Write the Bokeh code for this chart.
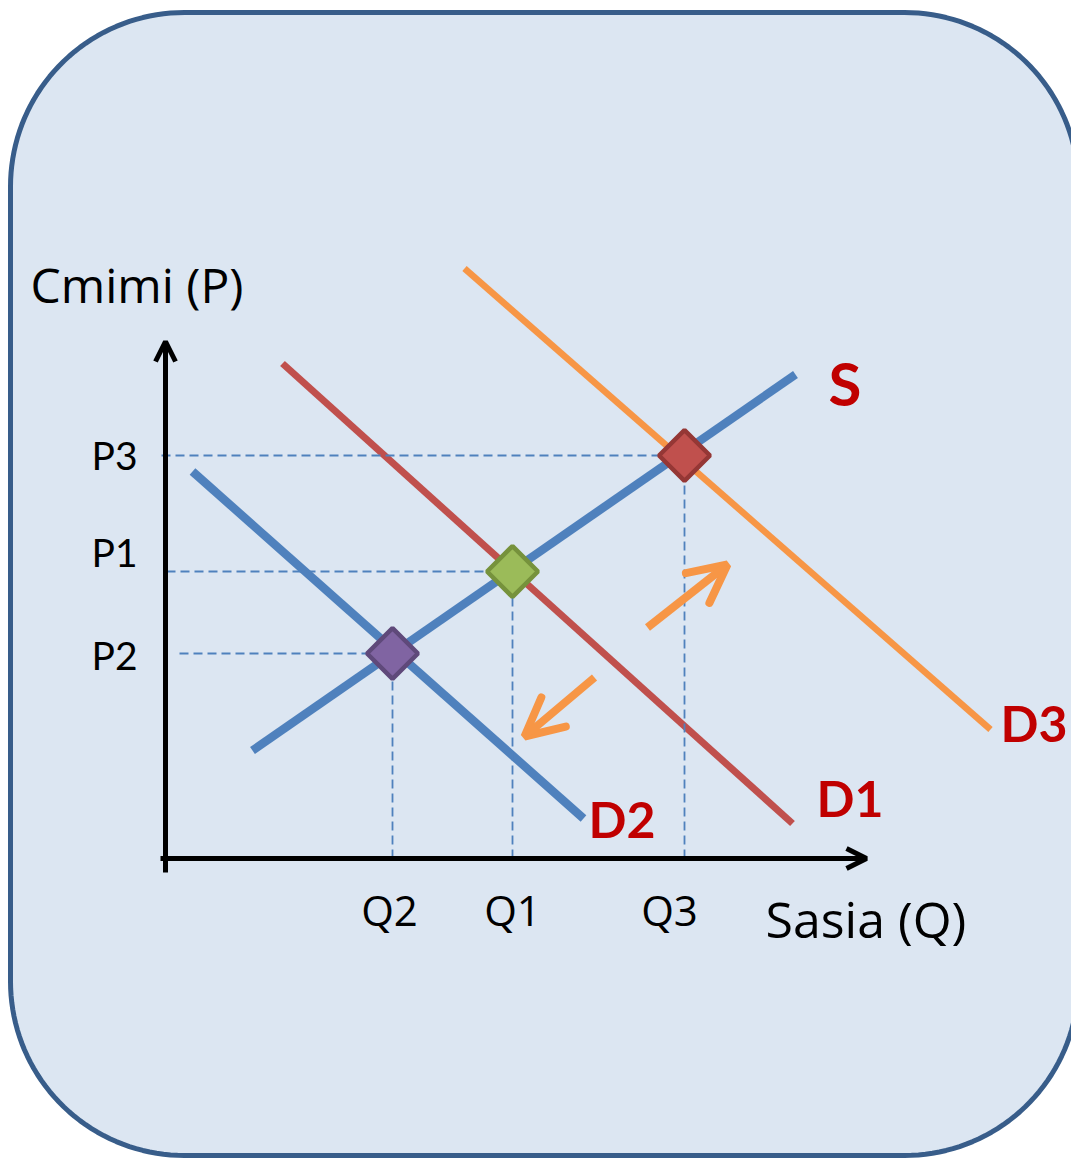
import numpy as np
from bokeh.plotting import figure
from bokeh.models import Range1d, Arrow, OpenHead
from bokeh.core.properties import value
from bokeh.embed import file_html
from bokeh.resources import INLINE

# ---- data (quantity Q on x, price P on y) ----
curve_names = ["S", "D1", "D2", "D3"]
curve_q_start = [0.87, 1.17, 0.27, 2.99]
curve_p_start = [1.08, 4.95, 3.87, 5.90]
curve_q_end = [6.30, 6.27, 4.18, 8.25]
curve_p_end = [4.84, 0.35, 0.40, 1.29]
curve_colors = ["#4f81bd", "#c0504d", "#4f81bd", "#f79646"]
curve_widths = [8.5, 7, 8.5, 6.5]

eq_names = ["E2", "E1", "E3"]
eq_q = [2.27, 3.47, 5.19]
eq_p = [2.05, 2.87, 4.03]
eq_fill = ["#8064a2", "#9bbb59", "#c0504d"]
eq_line = ["#5f497a", "#76923c", "#953735"]

p_tick_labels = ["P2", "P1", "P3"]
q_tick_labels = ["Q2", "Q1", "Q3"]
p_guide_start = [0.14, 0.01, -0.04]

# ---- figure: 1 data unit = 100 px ----
p = figure(width=1071, height=1158,
           x_range=Range1d(-1.65, 9.06), y_range=Range1d(-3.00, 8.58),
           x_axis_location=None, y_axis_location=None,
           output_backend="svg", toolbar_location=None, min_border=0)
p.grid.visible = False
p.outline_line_color = None
p.background_fill_color = "white"
p.border_fill_color = "white"

# rounded panel
L, R, T, B, rad = -1.55, 9.13, 8.46, -2.97, 1.74
def arc(cx, cy, a0, a1):
    t = np.linspace(a0, a1, 40)
    return cx + rad * np.cos(t), cy + rad * np.sin(t)
xs, ys = [], []
for cx, cy, a0, a1 in [(R - rad, T - rad, 0, np.pi / 2),
                       (L + rad, T - rad, np.pi / 2, np.pi),
                       (L + rad, B + rad, np.pi, 1.5 * np.pi),
                       (R - rad, B + rad, 1.5 * np.pi, 2 * np.pi)]:
    ax, ay = arc(cx, cy, a0, a1)
    xs.extend(ax); ys.extend(ay)
p.patch(xs, ys, fill_color="#dce6f2", line_color="#385d8a", line_width=5)

# curves
for i in range(len(curve_names)):
    p.line([curve_q_start[i], curve_q_end[i]], [curve_p_start[i], curve_p_end[i]],
           line_color=curve_colors[i], line_width=curve_widths[i])

# guide lines (dashed)
for i in range(3):
    p.line([p_guide_start[i], eq_q[i]], [eq_p[i], eq_p[i]],
           line_color="#4f81bd", line_width=1.8, line_dash="9 5")
    p.line([eq_q[i], eq_q[i]], [0, eq_p[i]],
           line_color="#4f81bd", line_width=1.8, line_dash="9 5")

# equilibrium markers
p.scatter(eq_q, eq_p, marker="square", size=36, angle=np.pi / 4,
          fill_color=eq_fill, line_color=eq_line, line_width=4.5)

# axes
p.add_layout(Arrow(end=OpenHead(line_color="black", line_width=5, size=20),
                   x_start=0, y_start=-0.14, x_end=0, y_end=5.17,
                   line_color="black", line_width=5))
p.add_layout(Arrow(end=OpenHead(line_color="black", line_width=5, size=20),
                   x_start=-0.05, y_start=0, x_end=7.01, y_end=0,
                   line_color="black", line_width=5))

# shift arrows
p.add_layout(Arrow(end=OpenHead(line_color="#f79646", line_width=8, size=38, line_cap="round"),
                   x_start=4.82, y_start=2.31, x_end=5.62, y_end=2.94,
                   line_color="#f79646", line_width=8))
p.add_layout(Arrow(end=OpenHead(line_color="#f79646", line_width=8, size=38, line_cap="round"),
                   x_start=4.29, y_start=1.81, x_end=3.59, y_end=1.22,
                   line_color="#f79646", line_width=8))

def label(x, y, txt, font, size, color="black", align="left", bold=False):
    p.text(x=x, y=y, text=txt, text_font=value(font), text_font_size=f"{size}px",
           text_font_style="bold" if bold else "normal", text_color=color,
           text_baseline="alphabetic", text_align=align, y_offset=-0.4 * size)

# axis titles
label([-1.35], [5.55], ["Cmimi (P)"], "Open Sans", 48)
label([6.00], [-0.80], ["Sasia (Q)"], "Open Sans", 50)

# tick labels
label([-0.28] * 3, [1.88, 2.91, 3.88], p_tick_labels, "Lato", 39, align="right")
label([2.24, 3.47, 5.04], [-0.68] * 3, q_tick_labels, "Open Sans", 42, align="center")

# curve labels
label([6.63], [4.52], ["S"], "Lato", 60, color="#c00000", bold=True)
label([6.51, 4.23, 8.35], [0.41, 0.20, 1.16], curve_names[1:], "Lato", 50,
      color="#c00000", bold=True)

open("out.html", "w").write(file_html(p, INLINE))
